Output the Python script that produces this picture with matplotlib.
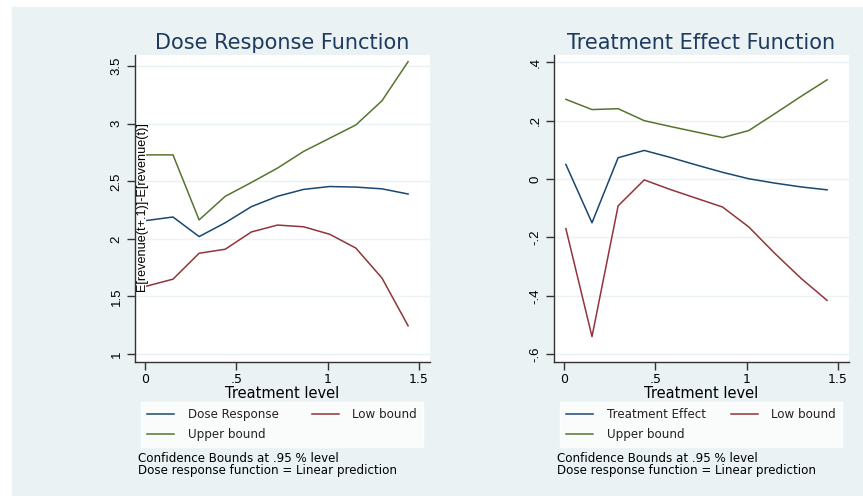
import matplotlib.pyplot as plt
from matplotlib.patches import Rectangle

plt.rcParams['font.family'] = ['DejaVu Sans']

# treatment levels (same grid in both panels)
treat = [0.01, 0.153, 0.296, 0.439, 0.582, 0.725, 0.868, 1.011, 1.154, 1.297, 1.44]

# dose response panel
dose_resp = [2.16, 2.19, 2.02, 2.14, 2.28, 2.37, 2.43, 2.455, 2.45, 2.435, 2.39]
dose_low = [1.59, 1.65, 1.875, 1.91, 2.06, 2.12, 2.105, 2.04, 1.92, 1.66, 1.245]
dose_up = [2.73, 2.73, 2.165, 2.37, 2.49, 2.615, 2.76, 2.875, 2.99, 3.2, 3.54]

# treatment effect panel
te_eff = [0.05, -0.15, 0.073, 0.098, 0.074, 0.048, 0.023, 0.001, -0.014, -0.027, -0.037]
te_low = [-0.17, -0.54, -0.092, -0.003, -0.036, -0.066, -0.096, -0.164, -0.255, -0.34, -0.416]
te_up = [0.273, 0.238, 0.241, 0.2, 0.18, 0.161, 0.142, 0.166, 0.224, 0.283, 0.34]

dose_yticks = [1, 1.5, 2, 2.5, 3, 3.5]
dose_ylabels = ['1', '1.5', '2', '2.5', '3', '3.5']
te_yticks = [-0.6, -0.4, -0.2, 0, 0.2, 0.4]
te_ylabels = ['-.6', '-.4', '-.2', '0', '.2', '.4']
xticks = [0, 0.5, 1, 1.5]
xlabels = ['0', '.5', '1', '1.5']

NOTE = 'Confidence Bounds at .95 % level\nDose response function = Linear prediction'

BG = '#EAF2F3'
NAVY = '#1A476F'
MAROON = '#90353B'
GREEN = '#55752F'
TITLE_C = '#1E3A5F'
NARROW = ['Liberation Sans', 'DejaVu Sans']  # for vertical text

W, H = 863, 496
fig = plt.figure(figsize=(W / 100, H / 100), dpi=100)
fig.patch.set_facecolor('white')
fig.patches.append(Rectangle((12 / W, 0), 1 - 12 / W, (H - 7) / H,
                             transform=fig.transFigure, color=BG, zorder=-10))


def make_panel(x0, title, y, low, up, name, yticks, ylabels, ylim):
    ax = fig.add_axes([x0 / W, (H - 362) / H, 295 / W, 307 / H])
    ax.set_facecolor('white')
    for v in yticks:
        ax.axhline(v, color=BG, lw=1.0, zorder=0)
    l1, = ax.plot(treat, y, color=NAVY, lw=1.1)
    l2, = ax.plot(treat, low, color=MAROON, lw=1.1)
    l3, = ax.plot(treat, up, color=GREEN, lw=1.1)
    ax.set_xlim(-0.055, 1.56)
    ax.set_ylim(*ylim)
    ax.set_xticks(xticks)
    ax.set_xticklabels(xlabels, fontsize=9)
    ax.set_yticks(yticks)
    ax.set_yticklabels(ylabels, fontsize=9.5, rotation=90, va='center', family=NARROW)
    for s in ['top', 'right']:
        ax.spines[s].set_visible(False)
    for s in ['left', 'bottom']:
        ax.spines[s].set_color('#333333')
        ax.spines[s].set_linewidth(1.0)
    ax.tick_params(direction='out', length=6, width=1.0, color='#333333', pad=3)
    ax.tick_params(axis='x', pad=2)
    ax.set_xlabel('Treatment level', fontsize=10.5, labelpad=0)
    ax.set_title(title, fontsize=15, color=TITLE_C, pad=4)

    leg = ax.legend([l1, l3, l2], [name, 'Upper bound', 'Low bound'], ncol=2,
                    loc='lower left', mode='expand',
                    bbox_to_anchor=((x0 + 6) / W, (H - 447) / H, 282 / W, 43 / H),
                    bbox_transform=fig.transFigure, fontsize=8.6, frameon=True,
                    fancybox=False, handlelength=2.3, handletextpad=1.1,
                    borderaxespad=0, borderpad=0.5, labelspacing=0.55, columnspacing=2)
    leg.get_frame().set_edgecolor('white')
    leg.get_frame().set_facecolor('white')
    for t in leg.get_texts():
        t.set_color('#222222')
    fig.text((x0 + 3) / W, (H - 464.5) / H, NOTE, fontsize=8.6,
             va='center', ha='left', linespacing=0.9)
    return ax


ax1 = make_panel(135, 'Dose Response Function', dose_resp, dose_low, dose_up,
                 'Dose Response', dose_yticks, dose_ylabels, (0.93, 3.598))
ax2 = make_panel(554, 'Treatment Effect Function', te_eff, te_low, te_up,
                 'Treatment Effect', te_yticks, te_ylabels, (-0.627, 0.425))

# y label sits inside the left plot region
fig.text(141.7 / W, (H - 206.7) / H, 'E[revenue(t+.1)]-E[revenue(t)]',
         rotation=90, fontsize=9.1, ha='center', va='center', family=NARROW)

fig.savefig('out.png', dpi=100)
